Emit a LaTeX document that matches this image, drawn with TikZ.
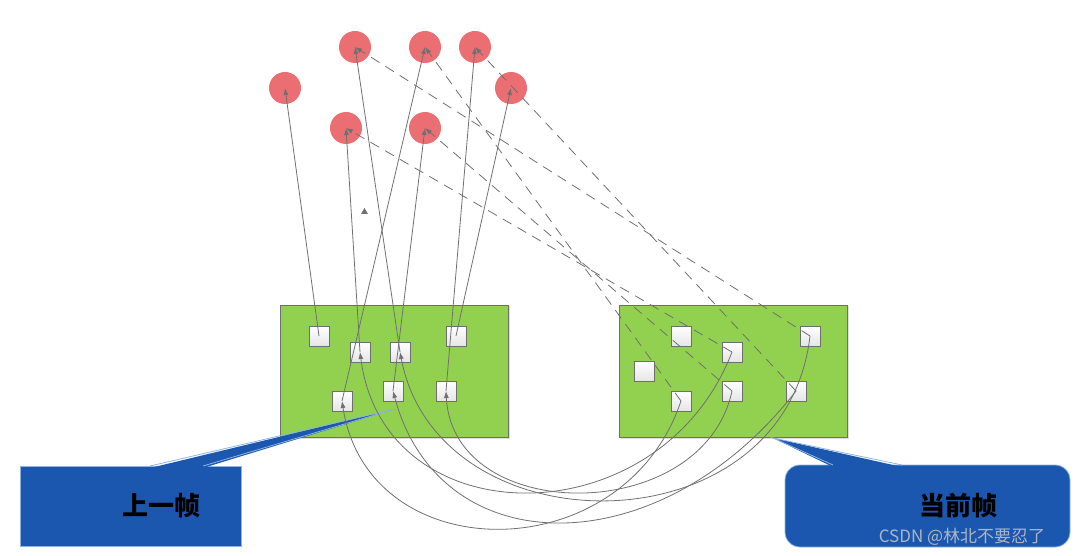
\documentclass[tikz,border=0pt]{standalone}
\usepackage{fontspec}
\newfontfamily\cjk{Noto Sans CJK SC}
\usetikzlibrary{arrows.meta,shadows}
\definecolor{ptred}{RGB}{235,110,115}
\definecolor{boxgreen}{RGB}{146,208,80}
\definecolor{boxedge}{RGB}{110,110,110}
\definecolor{linegray}{RGB}{112,112,112}
\definecolor{callblue}{RGB}{28,87,175}
\definecolor{calledge}{RGB}{142,180,227}
\begin{document}
\begin{tikzpicture}[x=1pt,y=-1pt,
  pt/.style={circle,fill=ptred,minimum size=32pt,inner sep=0pt},
  frame/.style={draw=boxedge,fill=boxgreen,line width=0.9pt,minimum width=228pt,minimum height=132pt,inner sep=0pt,
    drop shadow={shadow xshift=1.5pt,shadow yshift=-1.5pt,opacity=0.25}},
  feat/.style={draw=boxedge,line width=0.8pt,top color=white,bottom color=gray!20,minimum size=20pt,inner sep=0pt,
    drop shadow={shadow xshift=1pt,shadow yshift=-1pt,opacity=0.35}},
  ray/.style={draw=linegray,line width=0.8pt,-{Latex[length=7pt,width=5pt]}},
  proj/.style={ray,dash pattern=on 10pt off 7pt},
  match/.style={ray},
  callout/.style={fill=callblue},
  calloutedge/.style={draw=calledge,line width=0.8pt},
  lab/.style={font=\cjk\bfseries\fontsize{26}{26}\selectfont,text=black,inner sep=0pt},
  wmark/.style={font=\cjk\fontsize{17}{17}\selectfont,text=gray!45,opacity=0.85,inner sep=0pt}
]
\useasboundingbox (0,0) rectangle (1085,556);

% map points
\node[pt] (C1) at (285,88) {};
\node[pt] (C2) at (355,47) {};
\node[pt] (C3) at (425,47) {};
\node[pt] (C4) at (475,47) {};
\node[pt] (C5) at (511,88) {};
\node[pt] (C6) at (346,128) {};
\node[pt] (C7) at (425,128) {};

% frames
\node[frame] (LF) at (394,371) {};
\node[frame] (RF) at (733,371) {};

% previous-frame features
\node[feat] (L1) at (319,336) {};
\node[feat] (L2) at (360,352) {};
\node[feat] (L3) at (400,352) {};
\node[feat] (L4) at (456,336) {};
\node[feat] (L5) at (342,401) {};
\node[feat] (L6) at (393,391) {};
\node[feat] (L7) at (446,391) {};

% current-frame features
\node[feat] (R1) at (681,336) {};
\node[feat] (R2) at (732,352) {};
\node[feat] (R3) at (810,336) {};
\node[feat] (R4) at (644,371) {};
\node[feat] (R5) at (681,401) {};
\node[feat] (R6) at (732,391) {};
\node[feat] (R7) at (796,391) {};

% callouts
\fill[callout] (20,466) rectangle (241,546);
\draw[calloutedge] (20,466) rectangle (241,546);
\fill[callout] (150,468) -- (395,409) -- (203,468) -- cycle;
\draw[calloutedge] (150,466) -- (395,409) -- (203,466);
\node[lab] (T1) at (161,506) {上一帧};

\fill[callout,rounded corners=15pt] (785,465) rectangle (1070,547);
\draw[calloutedge,rounded corners=15pt] (785,465) rectangle (1070,547);
\fill[callout] (833,467) -- (773,438) -- (902,467) -- cycle;
\draw[calloutedge] (833,465) -- (773,438) -- (902,465);
\node[lab] (T2) at (958,506) {当前帧};

% projections from previous frame
\draw[ray] (L1.center) -- (C1.center);
\draw[ray] (L3.center) -- (C2.center);
\draw[ray] (L5.center) -- (C3.center);
\draw[ray] (L7.center) -- (C4.center);
\draw[ray] (L4.center) -- (C5.center);
\draw[ray] (L2.center) -- (C6.center);
\draw[ray] (L6.center) -- (C7.center);

% projections from current frame
\draw[proj] (R3.center) -- (C2.center);
\draw[proj] (R5.center) -- (C3.center);
\draw[proj] (R7.center) -- (C4.center);
\draw[proj] (R2.center) -- (C6.center);
\draw[proj] (R6.center) -- (C7.center);

% matches
\draw[match] (R5.center) .. controls (624,571) and (368,571) .. (L5.center);
\draw[match] (R2.center) .. controls (660,539) and (384,539) .. (L2.center);
\draw[match] (R3.center) .. controls (785,552) and (438,552) .. (L3.center);
\draw[match] (R7.center) .. controls (660,566) and (440,566) .. (L6.center);
\draw[match] (R6.center) .. controls (703,526) and (453,526) .. (L7.center);

% stray arrowhead
\fill[linegray] (361,214) -- (368,214) -- (364.5,208) -- cycle;

% watermark
\node[wmark] (WM) at (962,537) {CSDN @林北不要忍了};
\end{tikzpicture}
\end{document}
